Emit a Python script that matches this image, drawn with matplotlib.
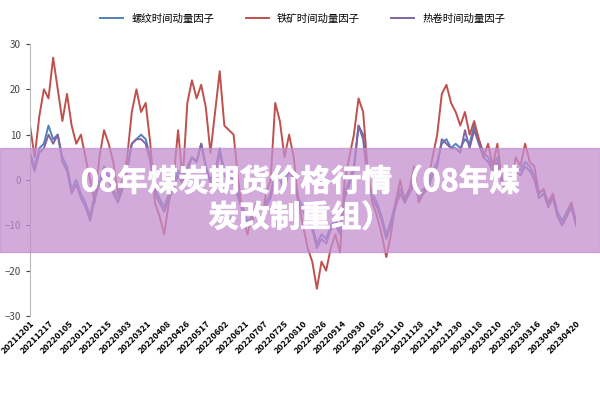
import matplotlib
matplotlib.use("Agg")
import matplotlib.pyplot as plt
import matplotlib.patheffects as pe
import numpy as np

plt.rcParams['font.family'] = ['Noto Sans CJK SC', 'DejaVu Sans']

tick_labels = ["20211201","20211217","20220105","20220121","20220215","20220303","20220321",
               "20220408","20220426","20220517","20220602","20220621","20220707","20220725",
               "20220810","20220826","20220914","20220930","20221025","20221110","20221128",
               "20221214","20221230","20230118","20230210","20230228","20230316","20230403","20230420"]

iron = [12,5,14,20,18,27,20,13,19,12,8,10,5,0,-5,5,11,8,4,-3,0,5,15,20,15,17,8,-5,-8,-12,
        -5,0,11,0,17,22,18,21,16,6,15,24,12,11,10,0,-8,-12,-8,-5,-10,-3,0,17,13,5,10,5,-5,-10,
        -15,-18,-24,-18,-20,-15,-12,-16,0,5,10,18,15,2,-5,-8,-12,-17,-12,-5,0,-5,-2,3,-5,-3,0,
        5,10,19,21,17,15,12,15,10,13,9,5,8,3,8,0,-2,0,5,3,8,4,3,-3,-2,-6,-3,-8,-10,-8,-5,-10]
rebar = [6,3,7,8,12,9,10,5,3,-2,0,-3,-5,-8,-3,0,3,1,-2,-4,-1,3,8,9,10,9,5,-2,-4,-6,
         -3,-1,2,0,3,5,4,8,3,0,2,7,2,1,0,-3,-6,-9,-8,-6,-9,-5,-3,2,1,-1,3,1,-4,-6,
         -8,-10,-14,-12,-13,-10,-9,-11,-3,0,3,12,10,0,-3,-5,-8,-12,-9,-5,-2,-4,-2,0,-3,-2,-1,
         2,4,8,9,7,8,7,9,8,12,9,6,5,3,5,0,-1,0,3,2,4,3,1,-3,-2,-5,-3,-7,-9,-7,-5,-9]
coil = [5,2,6,7,10,8,10,4,2,-3,-1,-4,-6,-9,-4,-1,2,0,-3,-5,-2,2,8,9,9,8,4,-3,-5,-7,
        -4,-2,1,-1,2,5,4,8,3,-1,1,6,1,0,-1,-4,-7,-10,-9,-7,-10,-6,-4,1,0,-2,2,0,-5,-7,
        -9,-11,-15,-13,-14,-11,-10,-12,-4,-1,2,12,9,-1,-4,-6,-9,-13,-10,-6,-3,-5,-3,-1,-4,-3,-2,
        1,3,9,8,7,7,6,11,7,11,8,5,4,2,4,-1,-2,-1,2,1,3,2,0,-4,-3,-6,-4,-8,-10,-8,-6,-10]

fig = plt.figure(figsize=(6, 4), dpi=100)
ax = fig.add_axes([0.05, 0.21, 0.91, 0.68])
x = np.arange(len(iron))
ax.plot(x, rebar, color='#4f81bd', lw=1.4, label='螺纹时间动量因子')
ax.plot(x, iron, color='#c0504d', lw=1.4, label='铁矿时间动量因子')
ax.plot(x, coil, color='#8064a2', lw=1.4, label='热卷时间动量因子')
ax.set_ylim(-30, 30)
ax.set_xlim(0, len(iron) - 1)
ax.set_yticks([-30, -20, -10, 0, 10, 20, 30])
ax.tick_params(axis='y', labelsize=7, colors='#444444', length=3)
pos = np.linspace(0, len(iron) - 1, len(tick_labels))
ax.set_xticks(pos)
ax.set_xticklabels(tick_labels, rotation=45, ha='right', fontsize=6.5, fontweight='bold', rotation_mode='anchor')
ax.tick_params(axis='x', length=0, pad=2)
for s in ['top', 'right', 'bottom']:
    ax.spines[s].set_visible(False)
ax.spines['left'].set_color('#bbbbbb')
ax.legend(loc='lower center', bbox_to_anchor=(0.5, 1.04), ncol=3, frameon=False, fontsize=7.5,
          handlelength=2.2, columnspacing=3)

fig.patches.append(plt.Rectangle((0, 1 - 252 / 400), 1, 104 / 400, transform=fig.transFigure,
                                 color='#c48fd0', alpha=0.75, zorder=5))
fig.text(0.5, 1 - 200 / 400, '08年煤炭期货价格行情（08年煤\n炭改制重组）', ha='center', va='center',
         color='white', fontsize=22, fontweight='bold', linespacing=1.15, zorder=6,
         path_effects=[pe.withStroke(linewidth=0.6, foreground='white')])

fig.savefig('out.png', dpi=100)
